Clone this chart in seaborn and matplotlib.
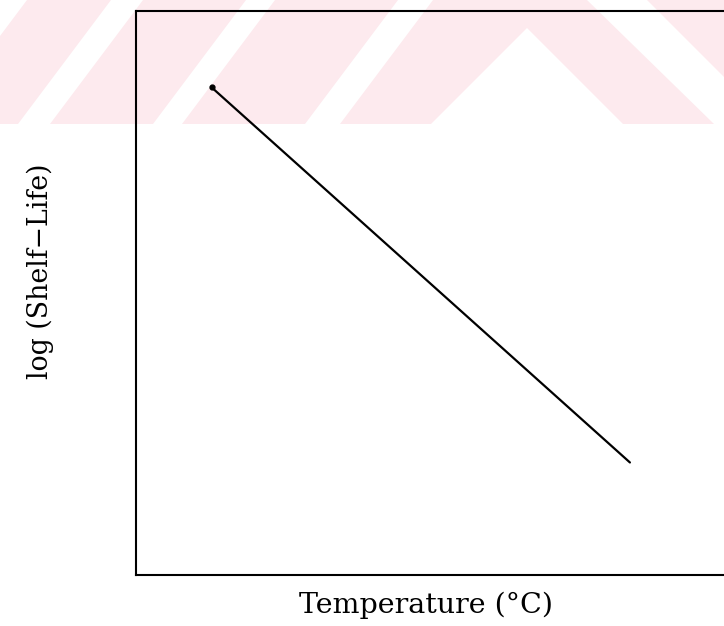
import numpy as np
import pandas as pd
import matplotlib
matplotlib.use("Agg")
import matplotlib.pyplot as plt
from matplotlib.patches import Polygon, Rectangle
import seaborn as sns

# Schematic shelf-life plot: log(shelf-life) falls linearly with temperature
temperature_c = [10.0, 65.0]
log_shelf_life = [3.0, 1.0]
x_label = "Temperature (°C)"
y_label = "log (Shelf\u2212Life)"

df = pd.DataFrame({"temperature": temperature_c, "log_shelf_life": log_shelf_life})

sns.set_style("white")
plt.rcParams["font.family"] = ["DejaVu Serif", "DejaVu Sans"]

W, H = 724, 626
fig = plt.figure(figsize=(W / 100, H / 100), dpi=100)
fig.patch.set_facecolor("white")


def fig_xy(px, py):
    return (px / W, 1 - py / H)


# Pale red diagonal banner across the top of the page
band_color = "#fdeaee"
fig.patches.append(Rectangle(fig_xy(0, 124), 1, 124 / H, transform=fig.transFigure,
                             facecolor=band_color, edgecolor="none", zorder=-10))
gaps = [
    [(-100, 124), (-66, 124), (27, 0), (-7, 0)],
    [(18, 124), (50, 124), (143, 0), (111, 0)],
    [(153, 124), (182, 124), (275, 0), (246, 0)],
    [(305, 124), (340, 124), (433, 0), (398, 0)],
    [(431, 124), (527, 28), (623, 124)],
    [(587, 0), (647, 0), (724, 77), (724, 124), (714, 124)],
]
for pts in gaps:
    fig.patches.append(Polygon([fig_xy(*p) for p in pts], closed=True,
                               transform=fig.transFigure, facecolor="white",
                               edgecolor="none", zorder=-9))

# Axes box; the right side runs off the page
left_px, right_px, top_px, bottom_px = 135.6, 744.0, 10.5, 575.0
ax = fig.add_axes([left_px / W, 1 - bottom_px / H,
                   (right_px - left_px) / W, (bottom_px - top_px) / H])
ax.set_facecolor("none")

sns.lineplot(data=df, x="temperature", y="log_shelf_life", ax=ax,
             color="black", linewidth=1.6, solid_capstyle="round")
ax.plot(temperature_c[:1], log_shelf_life[:1], "o", color="black", markersize=3.5)

ax.set_xlim(0, 80)
ax.set_ylim(0.4, 3.41)
ax.set_xticks([])
ax.set_yticks([])
for side in ["left", "right", "top", "bottom"]:
    ax.spines[side].set_visible(True)
    ax.spines[side].set_color("black")
    ax.spines[side].set_linewidth(1.5)

ax.set_xlabel(x_label, fontsize=20.5, color="black")
ax.set_ylabel(y_label, fontsize=19.3, color="black")
ax.xaxis.set_label_coords((426 - left_px) / (right_px - left_px),
                          -(605 - bottom_px) / (bottom_px - top_px))
ax.xaxis.label.set_verticalalignment("center")
ax.yaxis.set_label_coords(-(left_px - 40) / (right_px - left_px),
                          (bottom_px - 271) / (bottom_px - top_px))
ax.yaxis.label.set_verticalalignment("center")

fig.savefig("out.png", dpi=100)
